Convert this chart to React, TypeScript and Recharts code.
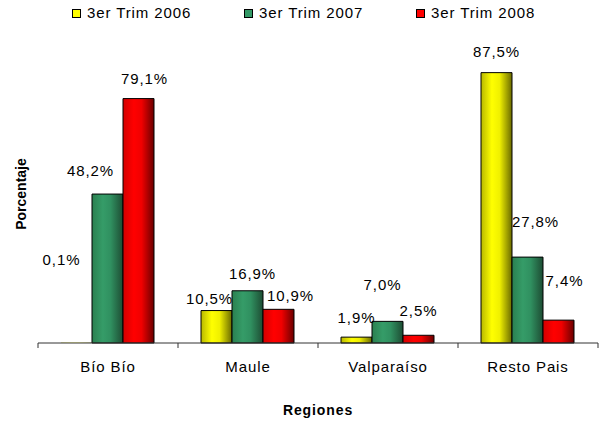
import { BarChart, Bar, XAxis, YAxis, Label, LabelList, Cell } from "recharts";

const regions = ["Bío Bío", "Maule", "Valparaíso", "Resto Pais"];
const seriesNames = ["3er Trim 2006", "3er Trim 2007", "3er Trim 2008"];
const trim2006 = [0.1, 10.5, 1.9, 87.5];
const trim2007 = [48.2, 16.9, 7.0, 27.8];
const trim2008 = [79.1, 10.9, 2.5, 7.4];

const W = 602;
const H = 423;
const LEFT = 38;
const RIGHT = 4;
const HALF_BAND = (W - LEFT - RIGHT) / regions.length / 2;
const FONT = "'Liberation Sans', Arial, sans-serif";
const TXT = 15;
const SPACING = 0.9;

// label nudges (dx, dy) from the top centre of each bar, like the hand-moved excel labels
const labelShift = [
  [[-15, -83], [-7, -12], [0, -20], [0, -21]],
  [[-17, -24], [5, -17], [-5, -37], [8, -36]],
  [[6, -20], [12, -14], [0, -25], [6, -40]],
];

const seriesKeys = ["t2006", "t2007", "t2008"];
const seriesData = [trim2006, trim2007, trim2008];
const swatch = ["#ffff00", "#339966", "#ff0000"];

const rows = regions.map((region, i) => ({
  region,
  t2006: trim2006[i],
  t2007: trim2007[i],
  t2008: trim2008[i],
}));

const fmt = (v: number) => `${v.toFixed(1).replace(".", ",")}%`;

const makeLabel = (si: number) => (props: any) => {
  const { x, y, width, value, index } = props;
  const [dx, dy] = labelShift[si][index];
  return (
    <text
      x={x + width / 2 + dx}
      y={y + dy}
      textAnchor="middle"
      dominantBaseline="central"
      fontFamily={FONT}
      fontSize={TXT}
      letterSpacing={SPACING}
      fill="#000"
    >
      {fmt(Number(value))}
    </text>
  );
};

const CatTick = (props: any) => {
  const { x, y, payload, index } = props;
  const last = index === regions.length - 1;
  return (
    <g>
      <line x1={x - HALF_BAND} x2={x - HALF_BAND} y1={y} y2={y + 5} stroke="#333" />
      {last && <line x1={x + HALF_BAND} x2={x + HALF_BAND} y1={y} y2={y + 5} stroke="#333" />}
      <text
        x={x}
        y={y + 23}
        textAnchor="middle"
        dominantBaseline="central"
        fontFamily={FONT}
        fontSize={TXT}
        letterSpacing={SPACING}
        fill="#000"
      >
        {payload.value}
      </text>
    </g>
  );
};

function ChartLegend() {
  return (
    <div
      style={{
        position: "absolute",
        top: 4,
        left: 72,
        display: "flex",
        fontFamily: FONT,
        fontSize: TXT,
        letterSpacing: SPACING,
        lineHeight: "18px",
      }}
    >
      {seriesNames.map((name, i) => (
        <div key={name} style={{ display: "flex", alignItems: "center", width: i < 2 ? 172 : "auto" }}>
          <span
            style={{
              display: "inline-block",
              width: 7,
              height: 7,
              background: swatch[i],
              border: "1px solid #000",
              marginRight: 6,
            }}
          />
          <span>{name}</span>
        </div>
      ))}
    </div>
  );
}

export default function App() {
  return (
    <div style={{ position: "absolute", left: 0, top: 0, width: W, height: H, background: "#fff" }}>
      <ChartLegend />
      <BarChart
        width={W}
        height={H}
        data={rows}
        margin={{ top: 34, right: RIGHT, left: 0, bottom: 0 }}
        barGap={0}
        barCategoryGap={23}
      >
        <defs>
          <linearGradient id="g2006" x1="0" y1="0" x2="1" y2="0">
            <stop offset="0%" stopColor="#b8b800" />
            <stop offset="35%" stopColor="#ffff00" />
            <stop offset="60%" stopColor="#f0f000" />
            <stop offset="100%" stopColor="#6a6a00" />
          </linearGradient>
          <linearGradient id="g2007" x1="0" y1="0" x2="1" y2="0">
            <stop offset="0%" stopColor="#2b8050" />
            <stop offset="35%" stopColor="#359c68" />
            <stop offset="60%" stopColor="#309060" />
            <stop offset="100%" stopColor="#1d4c33" />
          </linearGradient>
          <linearGradient id="g2008" x1="0" y1="0" x2="1" y2="0">
            <stop offset="0%" stopColor="#d40000" />
            <stop offset="35%" stopColor="#ff0000" />
            <stop offset="60%" stopColor="#f00000" />
            <stop offset="100%" stopColor="#6a0000" />
          </linearGradient>
        </defs>
        <XAxis
          dataKey="region"
          height={80}
          interval={0}
          axisLine={{ stroke: "#333" }}
          tickLine={false}
          tickSize={0}
          tickMargin={0}
          tick={<CatTick />}
        >
          <Label
            content={(p: any) => (
              <text
                x={p.viewBox.x + p.viewBox.width / 2}
                y={p.viewBox.y + 67}
                textAnchor="middle"
                dominantBaseline="central"
                fontFamily={FONT}
                fontSize={14}
                fontWeight="bold"
                letterSpacing={0.9}
              >
                Regiones
              </text>
            )}
          />
        </XAxis>
        <YAxis width={LEFT} domain={[0, 100]} axisLine={false} tickLine={false} tick={false}>
          <Label
            content={() => (
              <text
                x={21}
                y={194}
                transform="rotate(-90 21 194)"
                textAnchor="middle"
                dominantBaseline="central"
                fontFamily={FONT}
                fontSize={14}
                fontWeight="bold"
              >
                Porcentaje
              </text>
            )}
          />
        </YAxis>
        {seriesKeys.map((key, si) => (
          <Bar
            key={key}
            dataKey={key}
            name={seriesNames[si]}
            fill={`url(#g${2006 + si})`}
            stroke="#000"
            strokeWidth={1}
            isAnimationActive={false}
          >
            {seriesData[si].map((v, i) => (
              <Cell key={i} stroke={v < 0.5 ? "none" : "#000"} />
            ))}
            <LabelList dataKey={key} content={makeLabel(si)} />
          </Bar>
        ))}
      </BarChart>
    </div>
  );
}
